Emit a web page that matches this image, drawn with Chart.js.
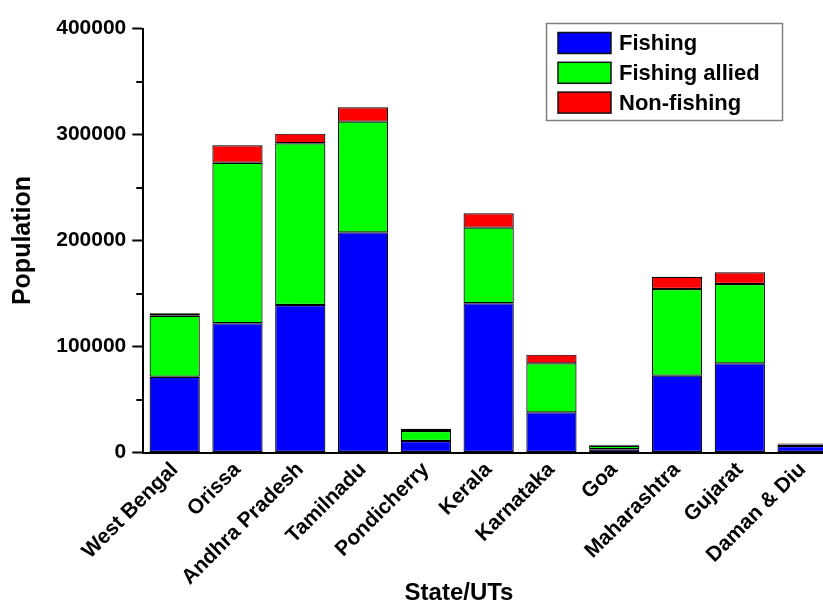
<!DOCTYPE html>
<html>
<head>
<meta charset="utf-8">
<script src="https://cdn.jsdelivr.net/npm/chart.js@4/dist/chart.umd.min.js"></script>
<style>
  html, body { margin: 0; padding: 0; background: #fff; overflow: hidden; }
  #wrap { width: 840px; height: 602px; }
</style>
</head>
<body>
<div id="wrap"><canvas id="c" width="840" height="602"></canvas></div>
<script>
const categories = ["West Bengal", "Orissa", "Andhra Pradesh", "Tamilnadu", "Pondicherry", "Kerala", "Karnataka", "Goa", "Maharashtra", "Gujarat", "Daman & Diu"];
const fishing       = [71500, 121900, 139200, 207700, 10800, 140800, 37900, 3000, 72500, 84100, 6200];
const fishingAllied = [57500, 151500, 152500, 104400,  9500,  71300, 46200, 3400, 81700, 74900, 1300];
const nonFishing    = [ 2300,  16400,   9100,  13600,  2200,  13600,  8200,  900, 11600, 11000,  900];
const yTicks = [0, 100000, 200000, 300000, 400000];
const yMinorTicks = [50000, 150000, 250000, 350000];
const seriesNames = ["Fishing", "Fishing allied", "Non-fishing"];
const seriesColors = ["#0000FF", "#00FF00", "#FF0000"];
const xTitle = "State/UTs";
const yTitle = "Population";

const FONT = "'Liberation Sans', Arial, sans-serif";

const minorTicksPlugin = {
  id: 'minorTicks',
  afterDraw(chart) {
    const s = chart.scales.y, ctx = chart.ctx;
    ctx.save();
    ctx.strokeStyle = '#000';
    ctx.lineWidth = 2;
    yMinorTicks.forEach(v => {
      const y = Math.round(s.getPixelForValue(v));
      ctx.beginPath();
      ctx.moveTo(chart.chartArea.left - 7, y);
      ctx.lineTo(chart.chartArea.left, y);
      ctx.stroke();
    });
    ctx.restore();
  }
};

const legendPlugin = {
  id: 'boxLegend',
  afterDraw(chart) {
    const ctx = chart.ctx;
    ctx.save();
    ctx.strokeStyle = '#808080';
    ctx.lineWidth = 1.5;
    ctx.strokeRect(546.5, 23.5, 236, 97);
    ctx.font = "bold 22px " + FONT;
    ctx.textBaseline = 'middle';
    ctx.textAlign = 'left';
    chart.data.datasets.forEach((ds, i) => {
      const top = 32.5 + i * 29.8;
      ctx.fillStyle = ds.backgroundColor;
      ctx.fillRect(558, top, 53, 21);
      ctx.strokeStyle = '#111';
      ctx.lineWidth = 1.5;
      ctx.strokeRect(558, top, 53, 21);
      ctx.fillStyle = '#000';
      ctx.fillText(ds.label, 619, top + 11.5);
    });
    ctx.restore();
  }
};

const xTitlePlugin = {
  id: 'xTitle',
  afterDraw(chart) {
    const ctx = chart.ctx;
    ctx.save();
    ctx.font = "bold 24px " + FONT;
    ctx.fillStyle = '#000';
    ctx.textAlign = 'center';
    ctx.textBaseline = 'alphabetic';
    ctx.fillText(xTitle, 459, 600);
    ctx.restore();
  }
};

const mkDs = (i, data) => ({
  label: seriesNames[i],
  data: data,
  backgroundColor: seriesColors[i],
  borderColor: '#000',
  borderWidth: 1.2,
  borderSkipped: false,
  barPercentage: 1.0,
  categoryPercentage: 0.8
});

new Chart(document.getElementById('c'), {
  type: 'bar',
  data: {
    labels: categories,
    datasets: [mkDs(0, fishing), mkDs(1, fishingAllied), mkDs(2, nonFishing)]
  },
  options: {
    responsive: false,
    animation: false,
    layout: { padding: { top: 28.5, right: 6, left: 0, bottom: 0 } },
    plugins: { legend: { display: false }, tooltip: { enabled: false } },
    scales: {
      x: {
        stacked: true,
        grid: { display: true, drawOnChartArea: false, drawTicks: false },
        border: { display: true, color: '#000', width: 2 },
        ticks: {
          color: '#000',
          font: { family: FONT, size: 21, weight: 'bold' },
          maxRotation: 45, minRotation: 45,
          padding: 5,
          autoSkip: false
        },
        afterFit(scale) { scale.height = 149.5; }
      },
      y: {
        stacked: true,
        min: 0, max: 400000,
        afterBuildTicks(scale) { scale.ticks = yTicks.map(v => ({ value: v })); },
        grid: { display: true, drawOnChartArea: false, drawTicks: true, tickLength: 11, tickColor: '#000', tickWidth: 2 },
        border: { display: true, color: '#000', width: 2 },
        ticks: {
          color: '#000',
          font: { family: FONT, size: 21, weight: 'bold' },
          padding: 6,
          callback: v => String(v)
        },
        title: {
          display: true,
          text: yTitle,
          color: '#000',
          font: { family: FONT, size: 25, weight: 'bold' },
          padding: { top: 8, bottom: 0 }
        },
        afterFit(scale) { scale.width = 143.3; }
      }
    }
  },
  plugins: [minorTicksPlugin, legendPlugin, xTitlePlugin]
});
</script>
</body>
</html>
